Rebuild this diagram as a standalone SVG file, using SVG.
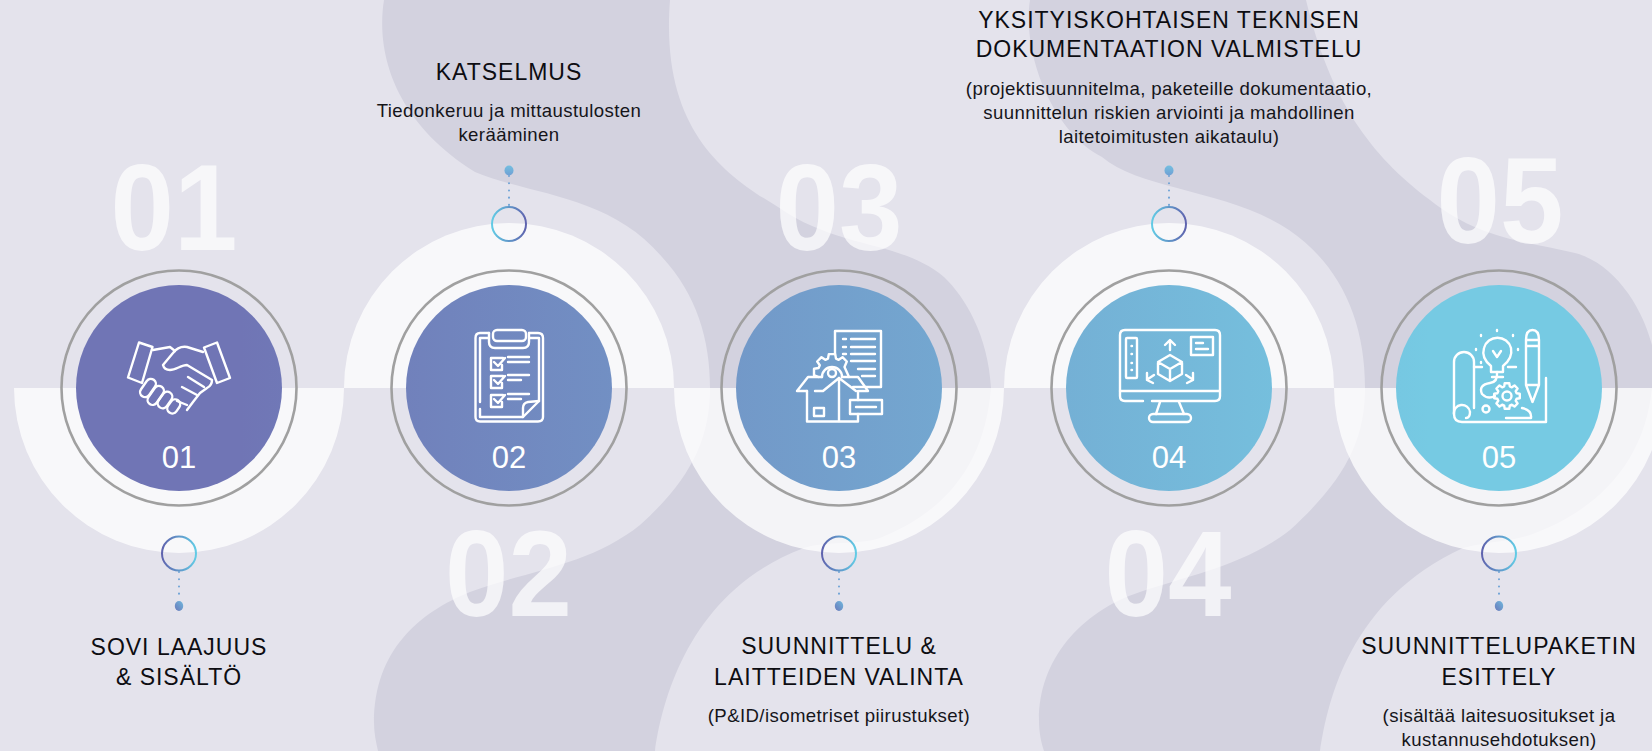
<svg xmlns="http://www.w3.org/2000/svg" width="1652" height="751" viewBox="0 0 1652 751">
<style>
text{font-family:"Liberation Sans",Arial,sans-serif;text-anchor:middle}
.big{font-weight:700;font-size:122px;fill:#fff;fill-opacity:.7}
.num{font-size:31px;fill:#fff}
.title{font-size:23px;letter-spacing:1px;fill:#0d0d12}
.desc{font-size:18.6px;letter-spacing:.4px;fill:#15151a}
.semi{fill:#fff;fill-opacity:.75}
.blob{fill:#d3d2df}
.ring{fill:none;stroke:#a0a0a0;stroke-width:2.6}
.disc{fill:url(#flow)}
.ic{fill:none;stroke:#fff;stroke-width:2.4;stroke-linecap:round;stroke-linejoin:round}
.dots{fill:none;stroke:#6ea3d6;stroke-width:2;stroke-linecap:round;stroke-dasharray:.1 7.1}
</style>
<defs>
<linearGradient id="flow" gradientUnits="userSpaceOnUse" x1="240" y1="0" x2="1430" y2="0"><stop offset="0" stop-color="#7075b5"/><stop offset="1" stop-color="#76cae3"/></linearGradient>
<linearGradient id="rd"><stop offset="0" stop-color="#5f63ae"/><stop offset="1" stop-color="#62cbe5"/></linearGradient>
<linearGradient id="ru"><stop offset="0" stop-color="#62cbe5"/><stop offset="1" stop-color="#5f63ae"/></linearGradient>
<linearGradient id="dropU" x1="0" y1="0" x2="0" y2="1"><stop offset="0" stop-color="#74bfe0"/><stop offset="1" stop-color="#6f9fd4"/></linearGradient>
<linearGradient id="dropD" x1="1" y1="0" x2="0" y2="1"><stop offset="0" stop-color="#70b8dd"/><stop offset="1" stop-color="#6a78ba"/></linearGradient>
<path id="gear" d="M9.6-2.8 12.8-2.3 12.8 2.3 9.6 2.8 8.7 4.8 10.6 7.5 7.5 10.6 4.8 8.7 2.8 9.6 2.3 12.8-2.3 12.8-2.8 9.6-4.8 8.7-7.5 10.6-10.6 7.5-8.7 4.8-9.6 2.8-12.8 2.3-12.8-2.3-9.6-2.8-8.7-4.8-10.6-7.5-7.5-10.6-4.8-8.7-2.8-9.6-2.3-12.8 2.3-12.8 2.8-9.6 4.8-8.7 7.5-10.6 10.6-7.5 8.7-4.8Z"/>
</defs>
<rect width="1652" height="751" fill="#e4e3ec"/>
<g id="background">
<path class="blob" d="M384 0C376 50 392 120 475 172C530 195 610 195 662 257C697 295 710 340 710 388C710 440 690 480 640 525C590 565 530 570 470 592C420 612 374 650 374 723C374 733 376 742 378 751H655C662 700 690 590 804 548C825 541 860 545 880 538C950 510 985 460 991 388C988 335 965 297 944 277C900 240 840 250 778 207C725 175 660 130 670 0Z"/>
<path class="blob" d="M1030 0C1022 50 1050 130 1102 157C1140 190 1230 190 1289 230C1340 265 1365 320 1365 388C1365 440 1345 480 1290 530C1245 565 1190 575 1140 592C1080 612 1039 660 1039 720C1039 732 1041 742 1044 751H1320C1328 700 1350 600 1463 548C1490 541 1510 542 1530 535C1600 510 1645 460 1652 388V345C1640 300 1610 262 1575 253C1530 242 1480 240 1430 200C1370 155 1330 100 1306 0Z"/>
</g>
<g id="semicircles">
<path class="semi" d="M14 388A165 165 0 0 0 344 388Z"/>
<path class="semi" d="M344 388A165 165 0 0 1 674 388Z"/>
<path class="semi" d="M674 388A165 165 0 0 0 1004 388Z"/>
<path class="semi" d="M1004 388A165 165 0 0 1 1334 388Z"/>
<path class="semi" d="M1334 388A165 165 0 0 0 1664 388Z"/>
</g>
<g id="connectors">
<path class="dots" d="M179 572V600"/>
<path class="dots" d="M509 176V205"/>
<path class="dots" d="M839 572V600"/>
<path class="dots" d="M1169 176V205"/>
<path class="dots" d="M1499 572V600"/>
</g>

<g id="node-01">
<text class="big" x="174" y="250" textLength="127" lengthAdjust="spacingAndGlyphs">01</text>
<circle class="ring" cx="179" cy="388" r="117.5"/><circle class="disc" cx="179" cy="388" r="103"/>
<g class="ic">
<path d="M139 342.500 152.500 347 142 383 128 377.500Z"/>
<path d="M204 347.500 217 342.500 230 378 217 383Z"/>
<path d="M153 350 170 347 175 351"/>
<path d="M203 352 187 347C180 346 176 349 173 353L163 365C164 369 167 370 170 370C176 370 181 365 187 365L212 380C212 384 209 387 207 388L200 393 193 402 187 410"/>
<path d="M188 377 204 387M182 387 197 395M177 401 187 405"/>
<rect x="143" y="378" width="10" height="20" rx="5" transform="rotate(35 148 388)"/>
<rect x="151" y="385" width="10" height="21" rx="5" transform="rotate(35 156 395)"/>
<rect x="160" y="391" width="10" height="18" rx="5" transform="rotate(35 165 400)"/>
<rect x="169" y="399" width="10" height="15" rx="5" transform="rotate(35 174 406)"/>
</g>
<text class="num" x="179" y="468">01</text>
<circle cx="179" cy="553.500" r="17" fill="none" stroke="url(#rd)" stroke-width="2"/>
<ellipse cx="179" cy="606" rx="4.200" ry="5" fill="url(#dropD)"/>
<text class="title" x="179" y="655">SOVI LAAJUUS</text><text class="title" x="179" y="685">&amp; SISÄLTÖ</text>
</g>

<g id="node-02">
<text class="big" x="508.500" y="616" textLength="127" lengthAdjust="spacingAndGlyphs">02</text>
<circle class="ring" cx="509" cy="388" r="117.5"/><circle class="disc" cx="509" cy="388" r="103"/>
<g class="ic">
<path d="M489 333H480Q475.500 333 475.500 338V417Q475.500 421.500 480 421.500H538Q543 421.500 543 417V338Q543 333 538 333H529"/>
<path d="M489 338H480V402M480 409V417H523L539 401V338H529"/>
<rect x="493" y="330" width="33" height="11" rx="4"/>
<path d="M489 333V342Q489 348 495 348H523Q529 348 529 342V333"/>
<path d="M523 417V408Q523 403 528 402L539 401"/>
<path d="M503 358H491V370H502V365M494 362 498 366 505 358"/>
<path d="M503 376H491V388H502V383M494 380 498 384 505 376"/>
<path d="M503 395H491V407H502V402M494 399 498 403 505 395"/>
<path d="M508 357H529M508 362H529M508 375H529M508 380H521M508 394H529M508 399H521"/>
</g>
<text class="num" x="509" y="468">02</text>
<circle cx="509" cy="224" r="17" fill="none" stroke="url(#ru)" stroke-width="2"/>
<ellipse cx="509" cy="170.500" rx="4.500" ry="5" fill="url(#dropU)"/>
<text class="title" x="509" y="80">KATSELMUS</text>
<text class="desc" x="509" y="117">Tiedonkeruu ja mittaustulosten</text><text class="desc" x="509" y="141">kerääminen</text>
</g>

<g id="node-03">
<text class="big" x="839" y="250" textLength="127" lengthAdjust="spacingAndGlyphs">03</text>
<circle class="ring" cx="839" cy="388" r="117.5"/><circle class="disc" cx="839" cy="388" r="103"/>
<g class="ic">
<path d="M835 354V331H881V387H853"/>
<path d="M843 339H846M851 339H875M843 347H846M851 347H875M843 354H846M851 354H875M851 361H875M858 369H875M862 376H875"/>
<path d="M818.500 377 814 375.200 814 368.800 818.600 368 819.800 365.300 817.200 361.500 821.500 357.200 825.300 359.800 828 358.600 828.800 354.100 835.200 354.100 836 358.600 838.700 359.800 842.500 357.200 846.800 361.500 844.500 367 849 377"/>
<path d="M822 377A10 10 0 0 1 842 377"/><circle cx="832" cy="373" r="4"/>
<path d="M797 391 808 377H822M842 377H858L868 391H859M797 391H807M815 391H823L839 378 856 391M839 378V421"/>
<path d="M807 391V421.500H858V414"/>
<path d="M858 391V400"/>
<rect x="814" y="408" width="10" height="8"/>
<rect x="850" y="400" width="32" height="14"/><path d="M856 407H876"/>
</g>
<text class="num" x="839" y="468">03</text>
<circle cx="839" cy="553.500" r="17" fill="none" stroke="url(#rd)" stroke-width="2"/>
<ellipse cx="839" cy="606" rx="4.200" ry="5" fill="url(#dropD)"/>
<text class="title" x="839" y="654">SUUNNITTELU &amp;</text><text class="title" x="839" y="685">LAITTEIDEN VALINTA</text>
<text class="desc" x="839" y="722">(P&amp;ID/isometriset piirustukset)</text>
</g>

<g id="node-04">
<text class="big" x="1168" y="616" textLength="127" lengthAdjust="spacingAndGlyphs">04</text>
<circle class="ring" cx="1169" cy="388" r="117.5"/><circle class="disc" cx="1169" cy="388" r="103"/>
<g class="ic">
<path d="M1143 401H1125Q1120 401 1120 396V335Q1120 330 1125 330H1215Q1220 330 1220 335V396Q1220 401 1215 401H1152"/>
<path d="M1120 391H1220"/>
<path d="M1160 402 1156 414M1179 402 1184 414"/>
<rect x="1149" y="414" width="42" height="8" rx="4"/>
<rect x="1126" y="338" width="11" height="40" rx="1"/>
<path d="M1131.500 346H1132M1131.500 354H1132M1131.500 363H1132M1131.500 370H1132"/>
<path d="M1170 355 1158 362V374L1170 381 1182 374V362ZM1158 362 1170 369 1182 362M1170 369V381"/>
<path d="M1170 350V341M1165 345 1170 340 1175 345"/>
<path d="M1154 375 1148 379M1147 373 1147 380 1153 383"/>
<path d="M1186 375 1192 379M1193 373 1193 380 1187 383"/>
<rect x="1191" y="337" width="22" height="18"/>
<path d="M1196 343H1203M1196 349H1208"/>
</g>
<text class="num" x="1169" y="468">04</text>
<circle cx="1169" cy="224" r="17" fill="none" stroke="url(#ru)" stroke-width="2"/>
<ellipse cx="1169" cy="170.500" rx="4.500" ry="5" fill="url(#dropU)"/>
<text class="title" x="1169" y="28">YKSITYISKOHTAISEN TEKNISEN</text><text class="title" x="1169" y="57">DOKUMENTAATION VALMISTELU</text>
<text class="desc" x="1169" y="95">(projektisuunnitelma, paketeille dokumentaatio,</text>
<text class="desc" x="1169" y="119">suunnittelun riskien arviointi ja mahdollinen</text>
<text class="desc" x="1169" y="143">laitetoimitusten aikataulu)</text>
</g>

<g id="node-05">
<text class="big" x="1500" y="243" textLength="127" lengthAdjust="spacingAndGlyphs">05</text>
<circle class="ring" cx="1499" cy="388" r="117.5"/><circle class="disc" cx="1499" cy="388" r="103"/>
<g class="ic">
<path d="M1454 414V362A10 10 0 0 1 1474 362V408"/>
<path d="M1454 414A8 8 0 0 1 1470 412Q1470 418 1466 418M1454 414Q1454 422 1462 422H1546V378"/>
<path d="M1474 367H1482"/>
<path d="M1522 408Q1532 410 1531 418H1506"/>
<path d="M1491 366Q1481 358 1484 348A14 14 0 0 1 1511 348Q1513 358 1503 366V372H1491Z"/>
<path d="M1493 351 1497 357 1501 351M1492 377H1503M1497 372Q1498 382 1490 383Q1478 385 1482 394Q1488 400 1495 396"/>
<path d="M1497 330V331M1481 335V336M1513 335V336M1476 349V350M1518 349V350M1481 362V363M1508 367H1516"/>
<path d="M1526 340Q1526 330 1532.500 330Q1539 330 1539 340V385L1532.500 402 1526 385ZM1526 340H1539M1526 346H1539M1526 385H1539"/>
<use href="#gear" x="1507" y="396"/>
<circle cx="1507" cy="396" r="4.500"/>
<circle cx="1486" cy="409" r="3.500"/>
</g>
<text class="num" x="1499" y="468">05</text>
<circle cx="1499" cy="553.500" r="17" fill="none" stroke="url(#rd)" stroke-width="2"/>
<ellipse cx="1499" cy="606" rx="4.200" ry="5" fill="url(#dropD)"/>
<text class="title" x="1499" y="654">SUUNNITTELUPAKETIN</text><text class="title" x="1499" y="685">ESITTELY</text>
<text class="desc" x="1499" y="722">(sisältää laitesuositukset ja</text><text class="desc" x="1499" y="746">kustannusehdotuksen)</text>
</g>
</svg>
